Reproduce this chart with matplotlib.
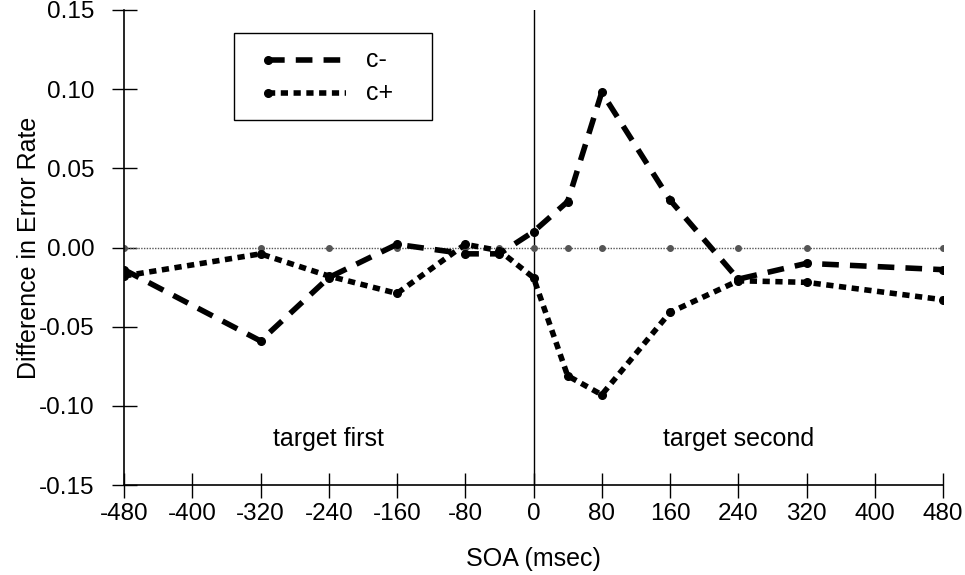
import matplotlib
matplotlib.use("Agg")
import matplotlib.pyplot as plt
from matplotlib.patches import Rectangle
from matplotlib.lines import Line2D

plt.rcParams['font.family'] = ['Liberation Sans', 'DejaVu Sans']

soa = [-480, -320, -240, -160, -80, -40, 0, 40, 80, 160, 240, 320, 480]
c_minus = [-0.014, -0.059, -0.019, 0.002, -0.004, -0.004, 0.010, 0.029, 0.098, 0.030, -0.020, -0.010, -0.014]
c_plus = [-0.018, -0.004, -0.018, -0.029, 0.002, -0.002, -0.019, -0.081, -0.093, -0.041, -0.021, -0.022, -0.033]
baseline = [0.0] * len(soa)
series_labels = ["c-", "c+"]
x_ticks = list(range(-480, 481, 80))
y_ticks = [-0.15, -0.10, -0.05, 0.00, 0.05, 0.10, 0.15]

fig = plt.figure(figsize=(9.65, 5.75), dpi=100)
ax = fig.add_axes([124/965, 1 - 485/575, (943-124)/965, (485-10)/575])

fs = 18
tick_font = ['Liberation Sans Narrow', 'Liberation Sans']
ax.plot(soa, baseline, color='#555555', lw=1.0, ls=(0, (1, 1)), marker='o', ms=4, zorder=2)
ax.axvline(0, color='black', lw=1.0, zorder=1)
dash_minus = (0, (3.0, 2.0))
dash_plus = (0, (1.3, 1.0))
l1, = ax.plot(soa, c_minus, color='black', lw=4.0, ls=dash_minus, marker='o', ms=5.5, zorder=3)
l2, = ax.plot(soa, c_plus, color='black', lw=4.0, ls=dash_plus, marker='o', ms=5.5, zorder=3)

ax.set_xlim(-480, 480)
ax.set_ylim(-0.15, 0.15)
ax.set_xticks(x_ticks)
ax.set_xticklabels([str(t) for t in x_ticks], fontsize=fs - 0.5, family=tick_font)
ax.set_yticks(y_ticks)
ax.set_yticklabels([f"{t:.2f}" for t in y_ticks], fontsize=fs - 0.5, family=tick_font)
ax.tick_params(direction='inout', length=18, width=1.0)
ax.tick_params(axis='x', pad=4)
ax.tick_params(axis='y', pad=12)
for s in ['top', 'right']:
    ax.spines[s].set_visible(False)
for s in ['left', 'bottom']:
    ax.spines[s].set_linewidth(1.2)
ax.set_xlabel("SOA (msec)", fontsize=fs, labelpad=16)
ax.set_ylabel("Difference in Error Rate", fontsize=fs)
ax.yaxis.set_label_coords(-0.101, 0.5)

ax.text(-240, -0.121, "target first", fontsize=fs, ha='center', va='center')
ax.text(240, -0.121, "target second", fontsize=fs, ha='center', va='center')

# legend box drawn manually in axes-fraction coordinates
tr = ax.transAxes
def fx(px):
    return (px - 124) / (943 - 124)
def fy(py):
    return (485 - py) / (485 - 10)
ax.add_patch(Rectangle((fx(234), fy(120)), fx(432) - fx(234), fy(33) - fy(120),
                       transform=tr, fill=True, facecolor='white', edgecolor='black', lw=1.0, zorder=5))
for i, (dash, lab) in enumerate([(dash_minus, series_labels[0]), (dash_plus, series_labels[1])]):
    ypx = 60 + i * 33
    ax.add_line(Line2D([fx(268), fx(346)], [fy(ypx), fy(ypx)], transform=tr, color='black', lw=4.0,
                       ls=dash, zorder=6))
    ax.add_line(Line2D([fx(268)], [fy(ypx)], transform=tr, color='black', marker='o', ms=5.5, zorder=6))
    ax.text(fx(366), fy(ypx), lab, transform=tr, fontsize=fs, va='center', ha='left', zorder=6)

fig.savefig("out.png", dpi=100)
